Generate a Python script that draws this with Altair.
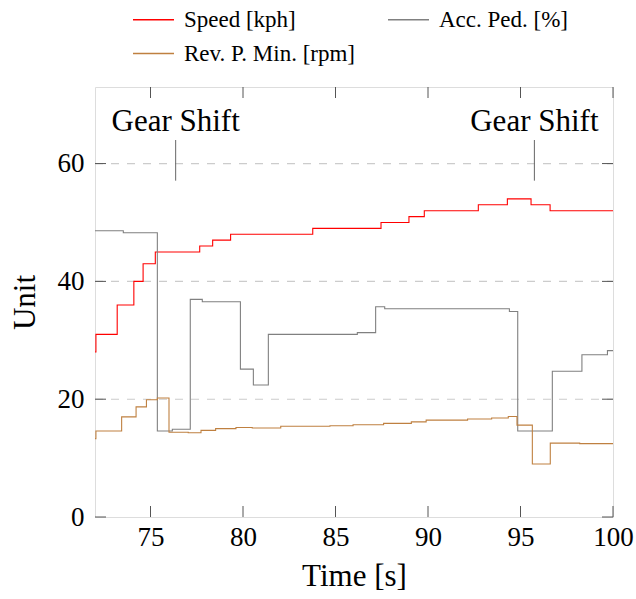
import altair as alt
import pandas as pd

# ---------------- data ----------------
series_names = ["Speed [kph]", "Acc. Ped. [%]", "Rev. P. Min. [rpm]"]
series_colors = ["#ff0000", "#808080", "#bf8040"]

speed_t = [72.0, 72.05, 73.2, 74.1, 74.6, 75.26, 77.66, 78.36, 79.33, 83.77,
           87.46, 88.97, 89.8, 92.72, 94.29, 95.57, 96.6, 100.0]
speed_v = [28.0, 31.0, 36.0, 40.0, 43.0, 45.0, 46.0, 47.0, 48.0, 49.0,
           50.0, 51.0, 52.0, 53.0, 54.0, 53.0, 52.0, 52.0]

acc_t = [72.0, 73.53, 75.37, 76.18, 77.15, 77.8, 79.86, 80.56, 81.37, 86.18,
         87.17, 87.66, 94.4, 94.85, 96.72, 98.32, 99.7, 100.0]
acc_v = [48.6, 48.25, 14.6, 14.9, 36.95, 36.55, 25.1, 22.4, 31.0, 31.3,
         35.7, 35.35, 34.9, 14.6, 24.75, 27.55, 28.25, 28.25]

rev_t = [72.0, 72.05, 73.44, 74.22, 74.78, 75.37, 76.0, 77.04, 77.73, 78.52,
         79.62, 80.5, 82.04, 84.7, 85.95, 87.6, 89.1, 89.9, 92.14, 93.44,
         94.34, 94.81, 95.64, 96.61, 98.2, 100.0]
rev_v = [13.3, 14.6, 17.0, 18.7, 19.9, 20.2, 14.4, 14.3, 14.7, 15.0,
         15.2, 15.1, 15.4, 15.5, 15.65, 15.9, 16.15, 16.45, 16.65, 16.8,
         17.05, 15.6, 9.0, 12.55, 12.45, 12.45]

x_ticks = [75, 80, 85, 90, 95, 100]
y_ticks = [0, 20, 40, 60]
grid_values = [20, 40, 60]

shift_t = [76.36, 95.75]
shift_labels = ["Gear Shift", "Gear Shift"]
shift_lo = [57.1, 57.1]
shift_hi = [64.0, 64.0]
shift_text_v = [65.6, 65.6]

# ---------------- tables ----------------
rows = []
for name, ts, vs in [(series_names[0], speed_t, speed_v),
                     (series_names[1], acc_t, acc_v),
                     (series_names[2], rev_t, rev_v)]:
    for i, (t, v) in enumerate(zip(ts, vs)):
        rows.append({"series": name, "t": t, "v": v, "idx": i})
df = pd.DataFrame(rows)

shift_df = pd.DataFrame({"t": shift_t, "label": shift_labels, "v": shift_lo,
                         "hi": shift_hi})
shift_text_df = pd.DataFrame({"t": shift_t, "label": shift_labels, "v": shift_text_v})
xt_df = pd.DataFrame({"t": x_ticks})
yt_df = pd.DataFrame({"v": y_ticks})
grid_df = pd.DataFrame({"v": grid_values})

FONT = "Liberation Serif"
W, H = 518, 430

xscale = alt.Scale(domain=[72, 100], nice=False, zero=False)
yscale = alt.Scale(domain=[0, 73], nice=False)

xaxis = alt.Axis(values=x_ticks, ticks=False, domain=False, grid=False,
                 labelFont=FONT, labelFontSize=27, labelColor="black",
                 labelPadding=7, labelFlush=False, labelOverlap=False,
                 title="Time [s]", titleFont=FONT, titleFontSize=31,
                 titleFontWeight="normal", titleColor="black", titlePadding=11)
yaxis = alt.Axis(values=y_ticks, ticks=False, domain=False, grid=False,
                 labelFont=FONT, labelFontSize=27, labelColor="black",
                 labelPadding=11, labelFlush=False, labelOverlap=False,
                 title="Unit", titleFont=FONT, titleFontSize=31,
                 titleFontWeight="normal", titleColor="black", titlePadding=16)

X = alt.X("t:Q", scale=xscale, axis=xaxis)
Y = alt.Y("v:Q", scale=yscale, axis=yaxis)

grid = alt.Chart(grid_df).mark_rule(color="#cccccc", strokeWidth=1.1,
                                     strokeDash=[8, 8]).encode(
    y=Y, x=alt.value(0), x2=alt.value(W))

lines = alt.Chart(df).mark_line(interpolate="step-after", strokeWidth=1.1,
                                clip=True).encode(
    x=X, y=Y,
    color=alt.Color("series:N",
                    scale=alt.Scale(domain=series_names, range=series_colors),
                    legend=alt.Legend(orient="none", legendX=37, legendY=-89,
                                      columns=2, direction="horizontal",
                                      title=None,
                                      symbolType="stroke", symbolSize=1681,
                                      symbolStrokeWidth=1.6,
                                      labelFont=FONT, labelFontSize=23,
                                      labelColor="black", labelOffset=9,
                                      labelLimit=400,
                                      columnPadding=28, rowPadding=0)),
    detail="series:N",
    order="idx:Q")

shift_rules = alt.Chart(shift_df).mark_rule(color="#666666", strokeWidth=1).encode(
    x=X, y=Y, y2="hi:Q")

shift_text = alt.Chart(shift_text_df).mark_text(font=FONT, fontSize=31,
                                                baseline="alphabetic", align="center",
                                                color="black").encode(
    x=X, y=Y, text="label:N")

TICK = 11
tick_color = "#555555"
bottom_ticks = alt.Chart(xt_df).mark_rule(color=tick_color, strokeWidth=1).encode(
    x=X, y=alt.value(H), y2=alt.value(H - TICK))
top_ticks = alt.Chart(xt_df).mark_rule(color=tick_color, strokeWidth=1).encode(
    x=X, y=alt.value(0), y2=alt.value(TICK))
left_ticks = alt.Chart(yt_df).mark_rule(color=tick_color, strokeWidth=1).encode(
    y=Y, x=alt.value(0), x2=alt.value(TICK))
right_ticks = alt.Chart(yt_df).mark_rule(color=tick_color, strokeWidth=1).encode(
    y=Y, x=alt.value(W), x2=alt.value(W - TICK))

chart = alt.layer(
    grid, lines, shift_rules, shift_text,
    bottom_ticks, top_ticks, left_ticks, right_ticks
).properties(
    width=W, height=H,
    autosize=alt.AutoSizeParams(type="none"),
    padding={"left": 95, "top": 87, "right": 23, "bottom": 82},
).configure_view(stroke="black", strokeWidth=1.1).configure(background="white")

chart.save("out.html", embed_options={"renderer": "svg", "actions": False})
